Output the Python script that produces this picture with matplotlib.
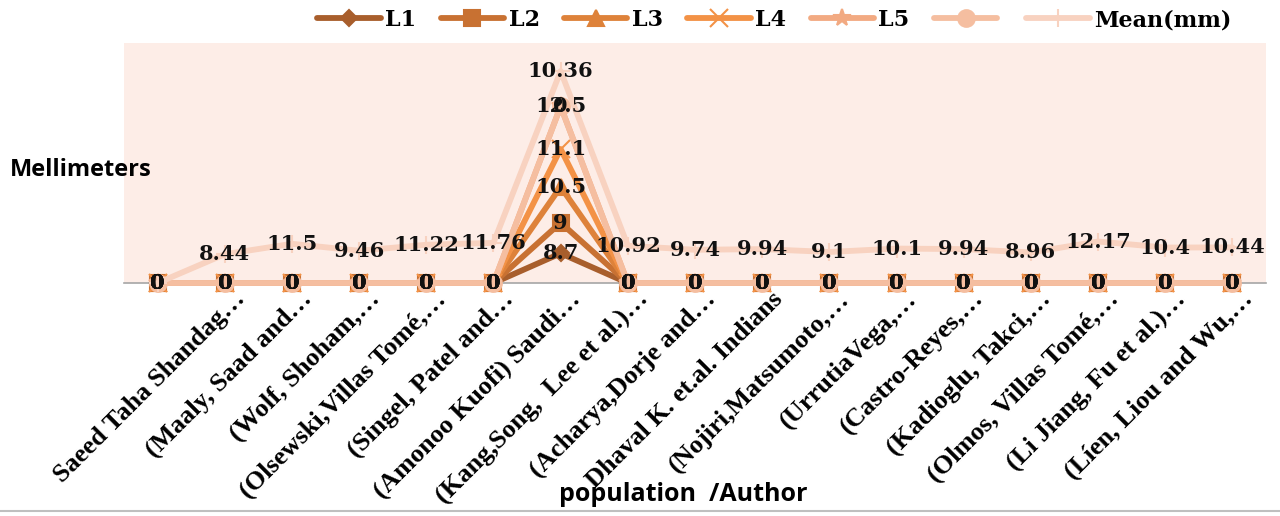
import matplotlib
matplotlib.use("Agg")
import matplotlib.pyplot as plt
import matplotlib.transforms as mtransforms
from matplotlib.lines import Line2D
import numpy as np

authors = [
    "",
    "Saeed Taha Shandag…",
    "(Maaly, Saad and…",
    "(Wolf, Shoham,…",
    "(Olsewski,Villas Tomé,…",
    "(Singel, Patel and…",
    "(Amonoo Kuofi) Saudi…",
    "(Kang,Song,  Lee et al.)…",
    "(Acharya,Dorje and…",
    "Dhaval K. et.al. Indians",
    "(Nojiri,Matsumoto,…",
    "(UrrutiaVega,…",
    "(Castro-Reyes,…",
    "(Kadioglu, Takci,…",
    "(Olmos, Villas Tomé,…",
    "(Li Jiang, Fu et al.)…",
    "(Líen, Liou and Wu,…",
]

l1 = [0, 0, 0, 0, 0, 0, 8.7, 0, 0, 0, 0, 0, 0, 0, 0, 0, 0]
l2 = [0, 0, 0, 0, 0, 0, 9, 0, 0, 0, 0, 0, 0, 0, 0, 0, 0]
l3 = [0, 0, 0, 0, 0, 0, 10.5, 0, 0, 0, 0, 0, 0, 0, 0, 0, 0]
l4 = [0, 0, 0, 0, 0, 0, 11.1, 0, 0, 0, 0, 0, 0, 0, 0, 0, 0]
l5 = [0, 0, 0, 0, 0, 0, 12.5, 0, 0, 0, 0, 0, 0, 0, 0, 0, 0]
blank = [0, 0, 0, 0, 0, 0, 0, 0, 0, 0, 0, 0, 0, 0, 0, 0, 0]
mean_mm = [0, 8.44, 11.5, 9.46, 11.22, 11.76, 10.36, 10.92, 9.74, 9.94,
           9.1, 10.1, 9.94, 8.96, 12.17, 10.4, 10.44]

series = [
    ("L1", l1, "#a85e2c", "D", 8),
    ("L2", l2, "#c87132", "s", 12),
    ("L3", l3, "#de823a", "^", 11),
    ("L4", l4, "#f39246", "x", 13),
    ("L5", l5, "#f2aa82", "*", 13),
    ("", blank, "#f5bea0", "o", 12),
    ("Mean(mm)", mean_mm, "#f8d2c0", "+", 13),
]

serif = "DejaVu Serif"
tick_font = "Liberation Serif"
bg = "#fdede7"

fig = plt.figure(figsize=(12.8, 5.16), dpi=100)
ax = fig.add_axes([124 / 1280, 1 - 283 / 516, 1142 / 1280, 240 / 516])
ax.set_facecolor(bg)

x = np.arange(len(authors))
base = np.zeros(len(authors))
handles = []
labels = []
for name, vals, color, marker, ms in series:
    cum = base + np.array(vals)
    line, = ax.plot(x, cum, color=color, linewidth=4.2, marker=marker, markersize=ms,
                    markerfacecolor=color, markeredgecolor=color, markeredgewidth=1.5,
                    solid_capstyle="round", clip_on=False, zorder=3)
    handles.append(line)
    labels.append(name)
    for xi, yi, v in zip(x, cum, vals):
        ax.text(xi, yi, f"{v:g}", ha="center", va="center", fontsize=15,
                fontweight="bold", family=serif, color="#111111", zorder=10, clip_on=False)
    base = cum

ax.set_xlim(-0.5, len(authors) - 0.5)
ax.set_ylim(0, 70.4)
ax.set_yticks([])
ax.set_xticks(x)
ax.set_xticklabels(authors, rotation=45, ha="right", va="top", rotation_mode="anchor",
                   fontsize=19, fontweight="bold", family=tick_font)
ax.tick_params(axis="x", length=0, pad=3)
offset = mtransforms.ScaledTranslation(6 / 72, 0, fig.dpi_scale_trans)
for lab in ax.get_xticklabels():
    lab.set_transform(lab.get_transform() + offset)

for side in ["left", "right", "top"]:
    ax.spines[side].set_visible(False)
ax.spines["bottom"].set_color("#a6a6a6")
ax.spines["bottom"].set_linewidth(1.2)

ax.set_ylabel("Mellimeters", rotation=0, ha="left", va="center", fontsize=17,
              fontweight="bold", family="Open Sans")
ax.yaxis.set_label_coords(-0.0998, 0.471)
ax.set_xlabel("population  /Author", fontsize=18, fontweight="bold", family="Open Sans",
              va="center")
ax.xaxis.set_label_coords(0.49, -0.883)

fig.legend(handles, labels, loc="center", bbox_to_anchor=(0.605, 0.961), ncol=7,
           frameon=False, handlelength=2.85, handletextpad=0.2, columnspacing=1.1,
           prop={"family": serif, "weight": "bold", "size": 16})

fig.add_artist(Line2D([0, 1], [0.009, 0.009], transform=fig.transFigure,
                      color="#bfbfbf", linewidth=1.5))

fig.savefig("out.png", dpi=100)
